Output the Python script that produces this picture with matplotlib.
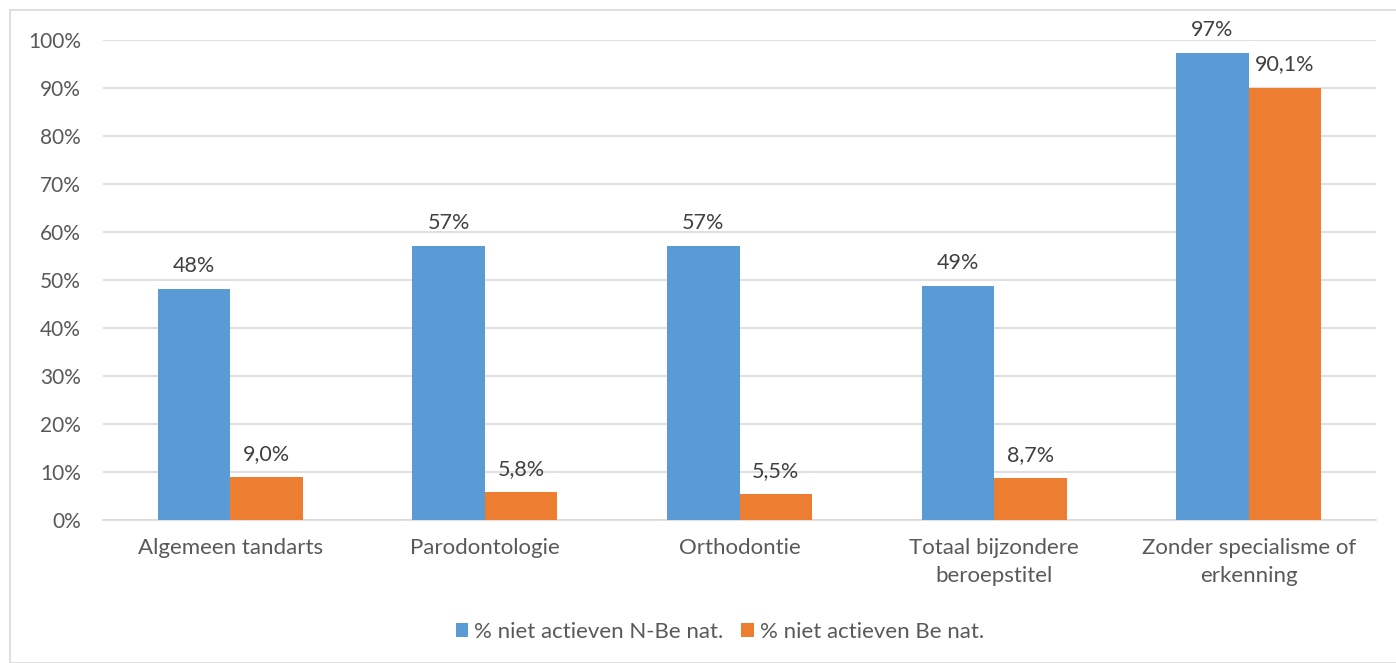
import matplotlib
matplotlib.use('Agg')
import matplotlib.pyplot as plt
import numpy as np
from matplotlib.patches import Rectangle

# gegevens
categorieen = ['Algemeen tandarts', 'Parodontologie', 'Orthodontie',
               'Totaal bijzondere\nberoepstitel', 'Zonder specialisme of\nerkenning']
n_be = [48.2, 57.1, 57.1, 48.8, 97.3]
be = [9.0, 5.8, 5.5, 8.7, 90.1]
label_n_be = ['48%', '57%', '57%', '49%', '97%']
label_be = ['9,0%', '5,8%', '5,5%', '8,7%', '90,1%']
reeksen = ['% niet actieven N-Be nat.', '% niet actieven Be nat.']

plt.rcParams['font.family'] = ['Lato', 'DejaVu Sans']
tekst = '#595959'
W, H = 1396, 663

fig = plt.figure(figsize=(W / 100, H / 100), dpi=100)
fig.patches.append(Rectangle((10 / W, 0), 1, 1 - 10 / H, transform=fig.transFigure,
                             fill=False, edgecolor='#D9D9D9', lw=1.2))

ax = fig.add_axes([103 / W, (H - 520) / H, (1376 - 103) / W, 480 / H])
x = np.arange(len(categorieen))
b = 0.285
ax.bar(x - b / 2, n_be, b, color='#5B9BD5', label=reeksen[0], zorder=3)
ax.bar(x + b / 2, be, b, color='#ED7D31', label=reeksen[1], zorder=3)

for i in range(len(x)):
    ax.text(x[i] - b / 2, n_be[i] + 2.7, label_n_be[i], ha='center', va='bottom',
            fontsize=15.5, color='#404040')
    ax.text(x[i] + b / 2, be[i] + 2.7, label_be[i], ha='center', va='bottom',
            fontsize=15.5, color='#404040')

ax.set_xlim(-0.5, len(x) - 0.5)
ax.set_ylim(0, 100)
ax.set_yticks(range(0, 101, 10))
ax.set_yticklabels([f'{v}%' for v in range(0, 101, 10)])
ax.set_xticks(x)
ax.set_xticklabels(categorieen, linespacing=1.5)
ax.tick_params(axis='y', length=0, pad=16, labelsize=15, labelcolor=tekst)
ax.tick_params(axis='x', length=0, pad=13, labelsize=16, labelcolor=tekst)
ax.grid(axis='y', color='#D9D9D9', lw=1.2, zorder=0)
for s in ['top', 'right', 'left']:
    ax.spines[s].set_visible(False)
ax.spines['bottom'].set_color('#D9D9D9')
ax.spines['bottom'].set_linewidth(1.2)

fig.legend(loc='center', bbox_to_anchor=(720 / W, (H - 632) / H), ncol=2, frameon=False,
           fontsize=16, labelcolor=tekst, handlelength=0.55, handleheight=0.55,
           handletextpad=0.3, columnspacing=0.8)

fig.savefig('out.png', dpi=100)
